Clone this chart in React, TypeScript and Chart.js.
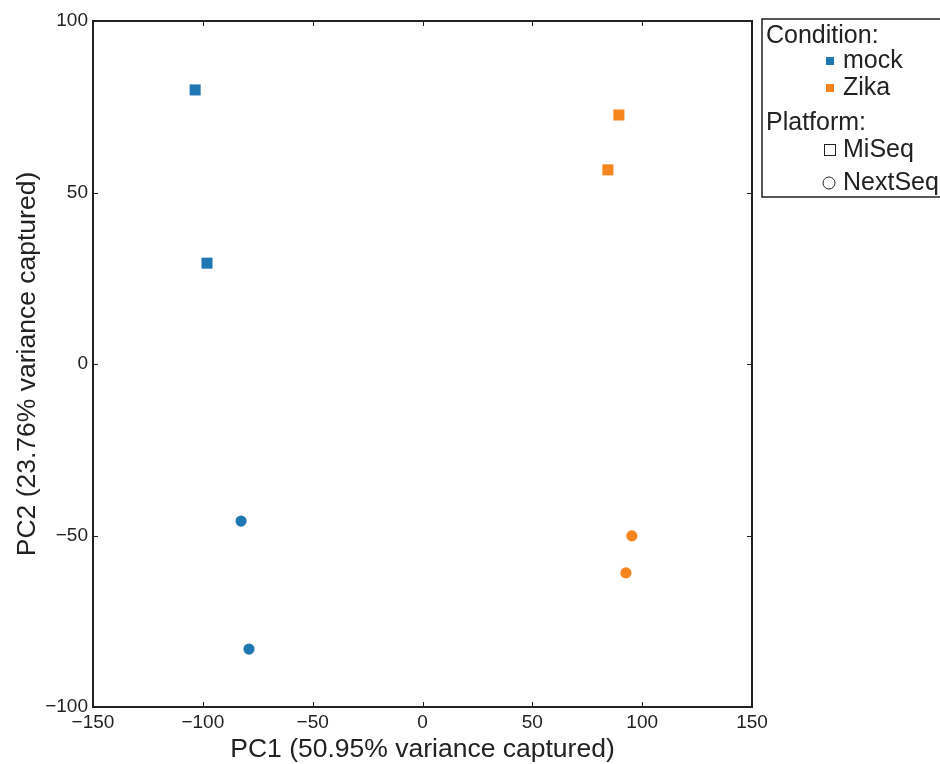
import React, { useEffect, useRef } from "react";
import { Chart, registerables } from "chart.js";

Chart.register(...registerables);

const BLUE = "#1f77b4";
const ORANGE = "#f7851e";

const mockMiSeq = [
  { x: -103.5, y: 79.9 },
  { x: -98.1, y: 29.4 },
];
const mockNextSeq = [
  { x: -82.6, y: -45.8 },
  { x: -79.0, y: -83.1 },
];
const zikaMiSeq = [
  { x: 89.4, y: 72.6 },
  { x: 84.4, y: 56.6 },
];
const zikaNextSeq = [
  { x: 95.3, y: -50.1 },
  { x: 92.6, y: -60.9 },
];

const xTicks = [-150, -100, -50, 0, 50, 100, 150];
const yTicks = [-100, -50, 0, 50, 100];

const xTitle = "PC1 (50.95% variance captured)";
const yTitle = "PC2 (23.76% variance captured)";
const conditionLabels = ["mock", "Zika"];
const platformLabels = ["MiSeq", "NextSeq"];

const FONT = "'Liberation Sans', Arial, Helvetica, sans-serif";
const INK = "#222222";

const frameAndLegend = {
  id: "frameAndLegend",
  afterDatasetsDraw(chart: any) {
    const { ctx, chartArea, scales } = chart;
    const { left, right, top, bottom } = chartArea;
    ctx.save();
    // inward ticks
    ctx.strokeStyle = INK;
    ctx.lineWidth = 1;
    const tl = 5;
    ctx.beginPath();
    xTicks.forEach((v) => {
      const px = Math.round(scales.x.getPixelForValue(v)) + 0.5;
      ctx.moveTo(px, bottom);
      ctx.lineTo(px, bottom - tl);
      ctx.moveTo(px, top);
      ctx.lineTo(px, top + tl);
    });
    yTicks.forEach((v) => {
      const py = Math.round(scales.y.getPixelForValue(v)) + 0.5;
      ctx.moveTo(left, py);
      ctx.lineTo(left + tl, py);
      ctx.moveTo(right, py);
      ctx.lineTo(right - tl, py);
    });
    ctx.stroke();
    // frame
    ctx.lineWidth = 2;
    ctx.strokeRect(left, top, right - left, bottom - top);

    // legend
    const lx = right + 10;
    const ly = top - 2;
    ctx.lineWidth = 1.5;
    ctx.strokeStyle = INK;
    ctx.strokeRect(lx, ly, 200, 178);
    ctx.fillStyle = INK;
    ctx.font = `25px ${FONT}`;
    ctx.textBaseline = "middle";
    ctx.textAlign = "left";
    const textX = lx + 81;
    const markX = lx + 68;
    ctx.fillText("Condition:", lx + 4, ly + 17);
    const condColors = [BLUE, ORANGE];
    const condY = [ly + 42, ly + 69];
    conditionLabels.forEach((lab, i) => {
      ctx.fillStyle = condColors[i];
      ctx.fillRect(markX - 4, condY[i] - 4, 8, 8);
      ctx.fillStyle = INK;
      ctx.fillText(lab, textX, condY[i]);
    });
    ctx.fillText("Platform:", lx + 4, ly + 104);
    const platY = [ly + 131, ly + 164];
    ctx.lineWidth = 1;
    ctx.strokeRect(markX - 5.5, platY[0] - 5.5, 11, 11);
    ctx.beginPath();
    ctx.arc(markX - 1, platY[1], 6, 0, Math.PI * 2);
    ctx.stroke();
    platformLabels.forEach((lab, i) => {
      ctx.fillText(lab, textX, platY[i]);
    });
    ctx.restore();
  },
};

export default function App() {
  const ref = useRef<HTMLCanvasElement>(null);
  useEffect(() => {
    document.body.style.margin = "0";
    const canvas = ref.current!;
    const sq = { pointStyle: "rect", pointRadius: 7.8, pointBorderWidth: 0 };
    const ci = { pointStyle: "circle", pointRadius: 5.6, pointBorderWidth: 0 };
    const chart = new Chart(canvas, {
      type: "scatter",
      data: {
        datasets: [
          { label: "mock MiSeq", data: mockMiSeq, backgroundColor: BLUE, ...sq },
          { label: "mock NextSeq", data: mockNextSeq, backgroundColor: BLUE, ...ci },
          { label: "Zika MiSeq", data: zikaMiSeq, backgroundColor: ORANGE, ...sq },
          { label: "Zika NextSeq", data: zikaNextSeq, backgroundColor: ORANGE, ...ci },
        ] as any,
      },
      options: {
        animation: false,
        responsive: false,
        devicePixelRatio: 1,
        layout: { padding: { left: 0, top: 21, right: 188, bottom: 0 } },
        plugins: { legend: { display: false }, tooltip: { enabled: false } },
        scales: {
          x: {
            type: "linear",
            min: -150,
            max: 150,
            afterBuildTicks: (s: any) => {
              s.ticks = xTicks.map((v) => ({ value: v }));
            },
            afterFit: (s: any) => {
              s.height = 57;
            },
            grid: { display: false, drawTicks: false },
            border: { display: false },
            ticks: {
              padding: 4,
              color: INK,
              font: { family: FONT, size: 19 },
              maxRotation: 0,
              autoSkip: false,
              callback: (v: any) => (v < 0 ? "\u2212" + Math.abs(v) : String(v)),
            },
            title: {
              display: true,
              text: xTitle,
              color: INK,
              font: { family: FONT, size: 26.5 },
              padding: { top: 0, bottom: -2 },
            },
          },
          y: {
            type: "linear",
            min: -100,
            max: 100,
            afterBuildTicks: (s: any) => {
              s.ticks = yTicks.map((v) => ({ value: v }));
            },
            afterFit: (s: any) => {
              s.width = 93;
            },
            grid: { display: false, drawTicks: false },
            border: { display: false },
            ticks: {
              padding: 5,
              color: INK,
              font: { family: FONT, size: 19 },
              autoSkip: false,
              callback: (v: any) => (v < 0 ? "\u2212" + Math.abs(v) : String(v)),
            },
            title: {
              display: true,
              text: yTitle,
              color: INK,
              font: { family: FONT, size: 26.5 },
              padding: { top: 12, bottom: 0 },
            },
          },
        },
      },
      plugins: [frameAndLegend],
    });
    return () => chart.destroy();
  }, []);
  return (
    <div style={{ width: 940, height: 764, background: "#fff" }}>
      <canvas ref={ref} width={940} height={764} style={{ display: "block" }} />
    </div>
  );
}
